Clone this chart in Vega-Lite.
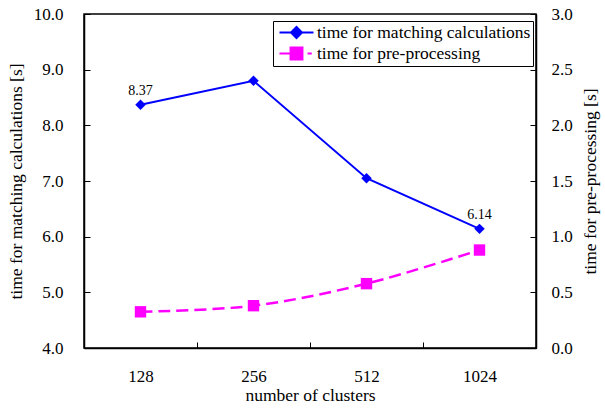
{
  "$schema": "https://vega.github.io/schema/vega-lite/v6.json",
  "width": 452,
  "height": 334,
  "autosize": "none",
  "padding": {"left": 84, "top": 14, "right": 69, "bottom": 60},
  "background": "white",
  "config": {
    "view": {"stroke": "black", "strokeWidth": 1.5},
    "font": "Liberation Serif",
    "axis": {
      "domainColor": "black", "domainWidth": 1.5, "tickColor": "black", "tickWidth": 1,
      "labelColor": "black", "titleColor": "black", "labelFont": "Liberation Serif",
      "titleFont": "Liberation Serif", "labelFontSize": 17, "titleFontSize": 17.5,
      "titleFontWeight": "normal", "grid": false, "tickSize": -6
    }
  },
  "data": {
    "values": [
      {"clusters": "128", "series": "time for matching calculations", "time": 8.37, "label": "8.37"},
      {"clusters": "256", "series": "time for matching calculations", "time": 8.80, "label": ""},
      {"clusters": "512", "series": "time for matching calculations", "time": 7.05, "label": ""},
      {"clusters": "1024", "series": "time for matching calculations", "time": 6.14, "label": "6.14"},
      {"clusters": "128", "series": "time for pre-processing", "time": 0.325, "label": ""},
      {"clusters": "256", "series": "time for pre-processing", "time": 0.38, "label": ""},
      {"clusters": "512", "series": "time for pre-processing", "time": 0.578, "label": ""},
      {"clusters": "1024", "series": "time for pre-processing", "time": 0.88, "label": ""}
    ]
  },
  "encoding": {
    "x": {
      "field": "clusters", "type": "nominal", "sort": ["128", "256", "512", "1024"],
      "scale": {"type": "band", "paddingInner": 0, "paddingOuter": 0},
      "axis": {"title": "number of clusters", "labelAngle": 0, "tickBand": "extent", "labelPadding": 26, "titlePadding": 2}
    }
  },
  "layer": [
    {
      "transform": [{"filter": "datum.series == 'time for matching calculations'"}],
      "encoding": {
        "y": {
          "field": "time", "type": "quantitative",
          "scale": {"domain": [4, 10], "nice": false, "zero": false},
          "axis": {"title": "time for matching calculations [s]", "values": [4, 5, 6, 7, 8, 9, 10], "format": ".1f", "labelPadding": 27, "titlePadding": 8}
        },
        "color": {
          "field": "series", "type": "nominal",
          "scale": {"domain": ["time for matching calculations", "time for pre-processing"], "range": ["#0000ff", "#ff00ff"]},
          "legend": {
            "title": null, "orient": "none", "legendX": 189, "legendY": 7,
            "strokeColor": "black", "fillColor": "white", "padding": 2,
            "labelFont": "Liberation Serif", "labelFontSize": 17.5, "labelColor": "black", "labelLimit": 400,
            "symbolSize": 289, "symbolStrokeWidth": 2, "rowPadding": 0, "labelOffset": 11, "symbolOffset": 12,
            "encode": {
              "symbols": {
                "update": {
                  "shape": {"signal": "datum.value == 'time for matching calculations' ? 'M-2,0H2M0,-0.65L0.65,0L0,0.65L-0.65,0Z' : 'M-2,0H-0.8M-0.7,-0.7H0.7V0.7H-0.7ZM1.3,0H1.8'"},
                  "fill": {"signal": "datum.value == 'time for matching calculations' ? '#0000ff' : '#ff00ff'"},
                  "stroke": {"signal": "datum.value == 'time for matching calculations' ? '#0000ff' : '#ff00ff'"},
                  "strokeDash": {"value": []},
                  "opacity": {"value": 1}
                }
              }
            }
          }
        }
      },
      "layer": [
        {"mark": {"type": "line", "strokeWidth": 2}},
        {"mark": {"type": "point", "shape": "diamond", "filled": true, "size": 110, "opacity": 1}},
        {"mark": {"type": "text", "dy": -14, "fontSize": 14, "font": "Liberation Serif", "color": "black"}, "encoding": {"text": {"field": "label"}, "color": {"value": "black"}}}
      ]
    },
    {
      "transform": [{"filter": "datum.series == 'time for pre-processing'"}],
      "encoding": {
        "y": {
          "field": "time", "type": "quantitative",
          "scale": {"domain": [0, 3], "nice": false, "zero": false},
          "axis": {"orient": "right", "title": "time for pre-processing [s]", "titleAngle": 270, "values": [0, 0.5, 1, 1.5, 2, 2.5, 3], "format": ".1f", "labelPadding": 21, "titlePadding": 27}
        },
        "color": {"field": "series", "type": "nominal", "legend": null}
      },
      "layer": [
        {"mark": {"type": "line", "strokeWidth": 2.5, "strokeDash": [12, 6], "interpolate": "catmull-rom"}},
        {"mark": {"type": "point", "shape": "square", "filled": true, "size": 130, "opacity": 1}}
      ]
    }
  ],
  "resolve": {"scale": {"y": "independent"}}
}
